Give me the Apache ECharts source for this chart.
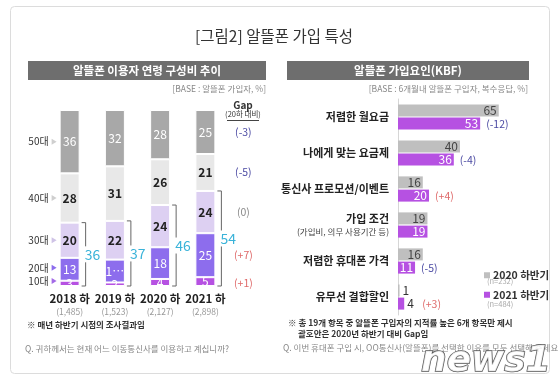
<!DOCTYPE html>
<html><head><meta charset="utf-8">
<script src="https://cdn.jsdelivr.net/npm/echarts@6/dist/echarts.min.js"></script>
<style>html,body{margin:0;padding:0;background:#fff}#c{width:560px;height:387px}</style>
</head><body><div id="c"></div>
<script>
// ---------- data ----------
const years = ['2018 하', '2019 하', '2020 하', '2021 하'];
const sampleN = ['(1,485)', '(1,523)', '(2,127)', '(2,898)'];
const ageNames = ['10대', '20대', '30대', '40대', '50대'];
const age10 = [3, 2, 4, 5];
const age20 = [13, 13, 18, 25];
const age30 = [20, 22, 24, 24];
const age40 = [28, 31, 26, 21];
const age50 = [36, 32, 28, 25];
const age20Labels = ['13', '1…', '18', '25'];
const under40 = [36, 37, 46, 54];
const ageGap = ['(+1)', '(+7)', '(0)', '(-5)', '(-3)'];

const factors = ['저렴한 월요금', '나에게 맞는 요금제', '통신사 프로모션/이벤트', '가입 조건', '저렴한 휴대폰 가격', '유무선 결합할인'];
const factorSub = ['', '', '', '(가입비, 의무 사용기간 등)', '', ''];
const kbf2020 = [65, 40, 16, 19, 16, 1];
const kbf2021 = [53, 36, 20, 19, 11, 4];
const kbfGap = ['(-12)', '(-4)', '(+4)', '', '(-5)', '(+3)'];
const legendNames = ['2020 하반기', '2021 하반기'];
const legendN = ['(n=232)', '(n=484)'];

// ---------- style ----------
const FONT = '"Noto Sans CJK KR", "Noto Sans", sans-serif';
const ageColors = ['#b651e2', '#8d6ded', '#ddd0f2', '#e8e8e8', '#a8a8a8'];
const ageLabelColors = ['#fff', '#fff', '#222', '#222', '#fff'];
const arrowColors = ['#a36ae6', '#8d6ded', '#cfc3e6', '#cfcfcf', '#cfcfcf'];
const gapColor = s => s.indexOf('-') >= 0 ? '#4b4aa3' : (s.indexOf('+') >= 0 ? '#df6b6b' : '#8a8a8a');
const C2020 = '#bfbfbf', C2021 = '#b651e2';
const BARW = 20;

const ageSeriesData = [age10, age20, age30, age40, age50];

const chart = echarts.init(document.getElementById('c'), null, {renderer: 'canvas'});

function cum(arrs, i, k) { let s = 0; for (let j = 0; j < k; j++) s += arrs[j][i]; return s; }

const ageSeries = ageSeriesData.map((arr, k) => ({
  type: 'bar', name: ageNames[k], stack: 'age', xAxisIndex: 0, yAxisIndex: 0,
  barWidth: BARW, data: arr,
  itemStyle: {color: ageColors[k], borderColor: '#fff', borderWidth: 1},
  label: {
    show: true, position: 'inside', color: ageLabelColors[k], fontSize: 12,
    fontFamily: FONT, fontWeight: k === 2 || k === 3 ? 'bold' : 'normal',
    formatter: p => k === 1 ? age20Labels[p.dataIndex] : String(p.value)
  },
  emphasis: {disabled: true}, silent: true
}));

// row labels (age names with arrow) next to first bar
const rowLabelSeries = {
  type: 'custom', xAxisIndex: 0, yAxisIndex: 0, data: [[0]], silent: true, z: 5,
  renderItem: (params, api) => {
    const children = [];
    const cx = api.coord([0, 0])[0];
    const left = cx - BARW / 2;
    for (let k = 0; k < 5; k++) {
      const lo = cum(ageSeriesData, 0, k), hi = lo + ageSeriesData[k][0];
      let y = api.coord([0, (lo + hi) / 2])[1];
      if (k === 0) y = api.coord([0, 0])[1] - 5;
      if (k === 1) y = api.coord([0, lo])[1] - 13;
      children.push({type: 'text', style: {text: ageNames[k], x: left - 11, y: y, align: 'right', verticalAlign: 'middle', fontSize: 10, fontFamily: FONT, fill: '#333'}});
      children.push({type: 'polygon', shape: {points: [[left - 8, y - 3], [left - 8, y + 3], [left - 3, y]]}, style: {fill: arrowColors[k]}});
    }
    return {type: 'group', children};
  }
};

// brackets for under-40 share
const bracketSeries = {
  type: 'custom', xAxisIndex: 0, yAxisIndex: 0, data: years.map((y, i) => [i]), silent: true, z: 5,
  renderItem: (params, api) => {
    const i = api.value(0);
    const cx = api.coord([i, 0])[0];
    const top = api.coord([i, under40[i]])[1];
    const bot = api.coord([i, 0])[1];
    const bx = cx + BARW / 2 + 6;
    return {type: 'group', children: [
      {type: 'polyline', shape: {points: [[bx - 4, top], [bx, top], [bx, bot], [bx - 4, bot]]}, style: {stroke: '#666', lineWidth: 1, fill: null}},
      {type: 'text', style: {text: String(under40[i]), x: bx - 2, y: (top + bot) / 2, align: 'left', verticalAlign: 'middle', fontSize: 14, fontFamily: FONT, fill: '#3ab3d9', backgroundColor: '#fff', padding: [1, 0, 1, 1]}}
    ]};
  }
};

// gap column aligned to last bar segments
const ageGapSeries = {
  type: 'custom', xAxisIndex: 0, yAxisIndex: 0, data: [[3]], silent: true, z: 5,
  renderItem: (params, api) => {
    const i = 3;
    const cx = api.coord([i, 0])[0];
    const children = [];
    for (let k = 0; k < 5; k++) {
      const lo = cum(ageSeriesData, i, k), hi = lo + ageSeriesData[k][i];
      let y = api.coord([i, (lo + hi) / 2])[1];
      if (k === 0) y = api.coord([i, 0])[1] - 3;
      children.push({type: 'text', style: {text: ageGap[k], x: cx + 38, y: y, align: 'center', verticalAlign: 'middle', fontSize: 10.5, fontFamily: FONT, fill: gapColor(ageGap[k])}});
    }
    return {type: 'group', children};
  }
};

// KBF bars
const kbfLabel = (dark) => ({
  show: true, position: 'insideRight', distance: 2, fontSize: 12, fontFamily: FONT,
  color: dark ? '#444' : '#fff'
});
const kbf2020Series = {
  type: 'bar', name: legendNames[0], xAxisIndex: 1, yAxisIndex: 1, barWidth: 12, barGap: '10%',
  itemStyle: {color: C2020},
  data: kbf2020.map(v => v < 6 ? {value: v, label: {position: 'right', distance: 3, color: '#333'}} : v),
  label: kbfLabel(true), silent: true
};
const kbf2021Series = {
  type: 'bar', name: legendNames[1], xAxisIndex: 1, yAxisIndex: 1, barWidth: 12, barGap: '10%',
  itemStyle: {color: C2021},
  data: kbf2021.map(v => v < 6 ? {value: v, label: {position: 'right', distance: 3, color: '#333'}} : v),
  label: kbfLabel(false), silent: true
};
const kbfGapSeries = {
  type: 'custom', xAxisIndex: 1, yAxisIndex: 1, data: kbf2021.map((v, i) => [v, i]), silent: true, z: 5,
  renderItem: (params, api) => {
    const v = api.value(0), i = api.value(1);
    const p = api.coord([v, i]);
    const extra = v < 6 ? 12 : 0;
    return {type: 'text', style: {text: kbfGap[i], x: p[0] + 6 + extra, y: p[1] + 7, align: 'left', verticalAlign: 'middle', fontSize: 10.5, fontFamily: FONT, fill: gapColor(kbfGap[i])}};
  }
};

const T = (text, x, y, o) => Object.assign({type: 'text', silent: true, style: Object.assign({text, x, y, fontFamily: FONT, fontSize: 9, fill: '#333', align: 'left', verticalAlign: 'middle'}, o || {})});

const option = {
  animation: false,
  backgroundColor: '#fff',
  textStyle: {fontFamily: FONT},
  grid: [
    {left: 47, top: 110, width: 181, height: 176},
    {left: 398, top: 99, width: 124, height: 216}
  ],
  xAxis: [
    {type: 'category', gridIndex: 0, data: years, axisLine: {show: false}, axisTick: {show: false},
      axisLabel: {interval: 0, margin: 6, formatter: (v, i) => `{y|${v}}\n{n|${sampleN[i]}}`,
        rich: {y: {fontSize: 11.5, fontWeight: 'bold', color: '#222', fontFamily: FONT, lineHeight: 14}, n: {fontSize: 8.5, color: '#999', fontFamily: FONT, lineHeight: 11}}}},
    {type: 'value', gridIndex: 1, min: 0, max: 80, show: false}
  ],
  yAxis: [
    {type: 'value', gridIndex: 0, min: 0, max: 100, show: false},
    {type: 'category', gridIndex: 1, data: factors, inverse: true,
      axisLine: {show: true, lineStyle: {color: '#d6d6d6'}}, axisTick: {show: false},
      axisLabel: {interval: 0, margin: 9, align: 'right', formatter: (v, i) => factorSub[i] ? `{a|${v}}\n{s|${factorSub[i]}}` : `{a|${v}}`,
        rich: {a: {fontSize: 11, color: '#222', fontFamily: FONT, fontWeight: 'bold', lineHeight: 14, align: 'right'}, s: {fontSize: 8.5, color: '#444', fontFamily: FONT, lineHeight: 12, align: 'right'}}}}
  ],
  legend: {
    orient: 'vertical', left: 479, top: 265, itemWidth: 6, itemHeight: 6, itemGap: 9,
    icon: 'rect', data: legendNames, selectedMode: false,
    textStyle: {fontSize: 10.5, fontWeight: 'bold', color: '#333', fontFamily: FONT, padding: [0, 0, 0, -2]}
  },
  graphic: [
    {type: 'rect', silent: true, shape: {x: 10.5, y: 6.5, width: 539, height: 367, r: 4}, style: {fill: 'none', stroke: '#dcdcdc', lineWidth: 1}},
    T('[그림2] 알뜰폰 가입 특성', 274, 36, {fontSize: 15.5, align: 'center', fill: '#333'}),
    {type: 'rect', silent: true, shape: {x: 28, y: 61, width: 238, height: 19}, style: {fill: '#6e6e6e'}},
    T('알뜰폰 이용자 연령 구성비 추이', 147, 70.5, {fontSize: 11.5, align: 'center', fill: '#fff', fontWeight: 'bold'}),
    {type: 'rect', silent: true, shape: {x: 287, y: 61, width: 242, height: 19}, style: {fill: '#6e6e6e'}},
    T('알뜰폰 가입요인(KBF)', 408, 70.5, {fontSize: 11.5, align: 'center', fill: '#fff', fontWeight: 'bold'}),
    T('[BASE : 알뜰폰 가입자, %]', 266, 89, {fontSize: 8.5, align: 'right', fill: '#888'}),
    T('[BASE : 6개월내 알뜰폰 구입자, 복수응답, %]', 528, 89, {fontSize: 8.5, align: 'right', fill: '#888'}),
    T('Gap', 243, 105, {fontSize: 10, align: 'center', fontWeight: 'bold', fill: '#333'}),
    T('(20하 대비)', 243, 114.5, {fontSize: 7.5, align: 'center', fill: '#333'}),
    {type: 'line', silent: true, shape: {x1: 227, y1: 120.5, x2: 259, y2: 120.5}, style: {stroke: '#444', lineWidth: 1}},
    T('※ 매년 하반기 시점의 조사결과임', 27, 325, {fontSize: 8.5, fontWeight: 'bold', fill: '#333'}),
    T('Q. 귀하께서는 현재 어느 이동통신사를 이용하고 계십니까?', 25, 349, {fontSize: 8.5, fill: '#888'}),
    T('※ 총 19개 항목 중 알뜰폰 구입자의 지적률 높은 6개 항목만 제시', 288, 323, {fontSize: 8.5, fontWeight: 'bold', fill: '#333'}),
    T('괄호안은 2020년 하반기 대비 Gap임', 298, 334, {fontSize: 8.5, fontWeight: 'bold', fill: '#333'}),
    T('Q. 이번 휴대폰 구입 시, OO통신사(알뜰폰)를 선택한 이유를 모두 선택해 주세요', 283, 348, {fontSize: 8.5, fill: '#888'}),
    T(legendN[0], 487, 281.5, {fontSize: 7.5, fill: '#aaa'}),
    T(legendN[1], 487, 304, {fontSize: 7.5, fill: '#aaa'}),
    T('news1', 421, 362, {fontSize: 36, fontStyle: 'italic', fontWeight: 'bold', fontFamily: '"DejaVu Sans"', fill: 'rgba(255,255,255,0.85)', stroke: '#555', lineWidth: 1.5})
  ],
  series: [...ageSeries, rowLabelSeries, bracketSeries, ageGapSeries, kbf2020Series, kbf2021Series, kbfGapSeries]
};
chart.setOption(option);
</script>
</body></html>
